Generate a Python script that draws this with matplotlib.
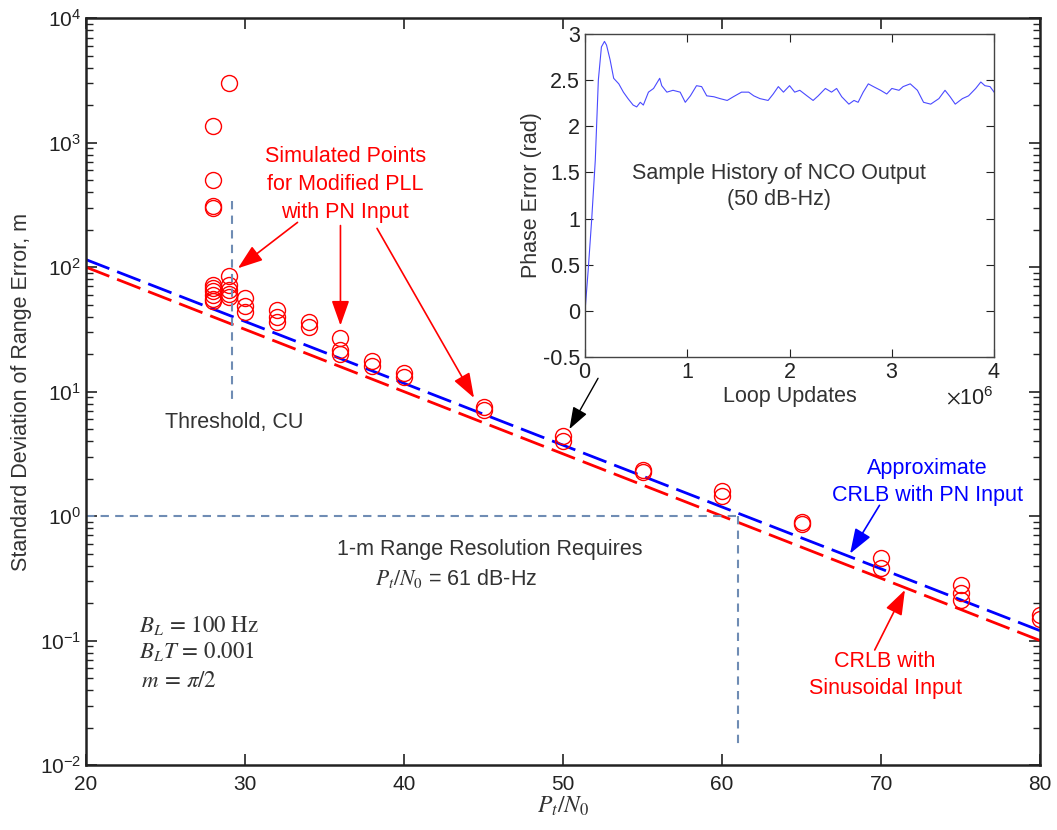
import numpy as np
import matplotlib.pyplot as plt
from matplotlib.ticker import ScalarFormatter

plt.rcParams['font.family'] = ['Liberation Sans', 'DejaVu Sans']
plt.rcParams['mathtext.fontset'] = 'stix'

# CRLB curves (end points, straight on log axis)
crlb_x = [20, 80]
crlb_pn = [115, 0.12]
crlb_sin = [100, 0.1]

# simulated points for modified PLL
sim_x = [28, 28, 28, 28, 28, 28, 28, 28, 28, 28,
         29, 29, 29, 29, 29, 29,
         30, 30, 30,
         32, 32, 32,
         34, 34,
         36, 36, 36,
         38, 38,
         40, 40,
         45, 45,
         50, 50,
         55, 55,
         60, 60,
         65, 65,
         70, 70,
         75, 75, 75,
         80, 80]
sim_y = [1350, 500, 310, 300, 72, 68, 64, 60, 56, 53,
         3000, 85, 72, 66, 61, 58,
         57, 49, 44,
         45, 40, 36,
         36, 33,
         27, 21.5, 20,
         17.5, 16,
         14, 13,
         7.5, 7.1,
         4.4, 4.0,
         2.35, 2.25,
         1.6, 1.45,
         0.9, 0.87,
         0.46, 0.38,
         0.28, 0.24, 0.21,
         0.16, 0.15]

# sample history of NCO output (loop updates in units of 1e6)
nco_x = [0.0, 0.03, 0.065, 0.10, 0.13, 0.16, 0.19, 0.21, 0.245, 0.28,
         0.33, 0.375, 0.42, 0.47, 0.505, 0.54, 0.57, 0.62, 0.67, 0.73,
         0.75, 0.80, 0.86, 0.93, 0.98, 1.03, 1.09, 1.14, 1.19, 1.26,
         1.32, 1.39, 1.45, 1.53, 1.60, 1.65, 1.71, 1.79, 1.84, 1.89,
         1.94, 2.00, 2.05, 2.10, 2.17, 2.23, 2.28, 2.35, 2.41, 2.46,
         2.51, 2.58, 2.63, 2.67, 2.72, 2.77, 2.82, 2.89, 2.95, 3.00,
         3.07, 3.11, 3.18, 3.25, 3.31, 3.38, 3.46, 3.52, 3.57, 3.62,
         3.69, 3.75, 3.82, 3.87, 3.91, 3.96, 4.00]
nco_y = [0.0, 0.43, 0.99, 1.63, 2.50, 2.86, 2.92, 2.88, 2.72, 2.52,
         2.46, 2.37, 2.30, 2.23, 2.21, 2.26, 2.23, 2.37, 2.41, 2.52,
         2.44, 2.37, 2.39, 2.37, 2.26, 2.33, 2.44, 2.43, 2.33, 2.32,
         2.30, 2.28, 2.32, 2.37, 2.37, 2.33, 2.30, 2.28, 2.35, 2.43,
         2.37, 2.44, 2.37, 2.39, 2.33, 2.28, 2.33, 2.41, 2.37, 2.41,
         2.32, 2.24, 2.28, 2.26, 2.37, 2.46, 2.43, 2.39, 2.35, 2.41,
         2.39, 2.43, 2.46, 2.39, 2.26, 2.24, 2.30, 2.39, 2.32, 2.24,
         2.30, 2.33, 2.41, 2.48, 2.44, 2.43, 2.37]
nco_x = np.array(nco_x) * 1e6

red = '#ff0000'
blue = '#0000ff'
guide = '#6f8cb4'
txt = '#333333'
fs = 15.5

fig = plt.figure(figsize=(10.57, 8.30), dpi=100)
ax = fig.add_axes([0.0814, 0.0783, 0.9026, 0.8997])

ax.plot(crlb_x, crlb_pn, color=blue, lw=2, dashes=(9, 3))
ax.plot(crlb_x, crlb_sin, color=red, lw=2, dashes=(9, 3))
ax.plot(sim_x, sim_y, 'o', mfc='none', mec=red, ms=11.5, mew=1.0)

# threshold and resolution guides
ax.plot([29.2, 29.2], [340, 7.8], color=guide, lw=1.5, dashes=(4, 3))
ax.plot([20, 61], [1, 1], color=guide, lw=1.5, dashes=(4, 3))
ax.plot([61, 61], [1, 0.0145], color=guide, lw=1.5, dashes=(4, 3))

ax.set_yscale('log')
ax.set_xlim(20, 80)
ax.set_ylim(1e-2, 1e4)
ax.set_xticks([20, 30, 40, 50, 60, 70, 80])
ax.tick_params(which='both', direction='in', top=True, right=True,
               labelsize=15, colors='#222222')
ax.tick_params(axis='x', pad=7)
ax.tick_params(which='major', length=8, width=1.2)
ax.tick_params(which='minor', length=5, width=1.0)
for s in ax.spines.values():
    s.set_linewidth(1.8)
    s.set_color('#222222')
ax.set_xlabel('$P_t/N_0$', fontsize=17, color=txt, labelpad=1)
ax.set_ylabel('Standard Deviation of Range Error, m', fontsize=fs, color=txt, labelpad=6)

# annotations
head = '-|>,head_length=0.9,head_width=0.32'
arr = dict(arrowstyle=head, color=red, lw=1.2, mutation_scale=17, shrinkA=0, shrinkB=0)
ax.text(36.3, 460, 'Simulated Points\nfor Modified PLL\nwith PN Input', color=red,
        fontsize=fs, ha='center', va='center', linespacing=1.45)
ax.annotate('', xy=(29.55, 98), xytext=(33.3, 229), arrowprops=arr)
ax.annotate('', xy=(36.0, 34), xytext=(36.0, 216), arrowprops=arr)
ax.annotate('', xy=(44.4, 8.9), xytext=(38.3, 205), arrowprops=arr)
ax.annotate('', xy=(50.4, 5.0), xytext=(52.2, 12.8),
            arrowprops=dict(arrowstyle=head, color='black', lw=1.0,
                            mutation_scale=15, shrinkA=0, shrinkB=0))
ax.text(29.3, 5.6, 'Threshold, CU', color=txt, fontsize=fs, ha='center', va='center')
ax.text(72.9, 1.88, 'Approximate\nCRLB with PN Input', color=blue, fontsize=fs,
        ha='center', va='center', linespacing=1.35)
ax.annotate('', xy=(68.05, 0.50), xytext=(69.9, 1.22),
            arrowprops=dict(arrowstyle=head, color=blue, lw=1.2, mutation_scale=17,
                            shrinkA=0, shrinkB=0))
ax.text(70.25, 0.053, 'CRLB with\nSinusoidal Input', color=red, fontsize=fs,
        ha='center', va='center', linespacing=1.35)
ax.annotate('', xy=(71.5, 0.255), xytext=(69.6, 0.084), arrowprops=arr)
ax.text(45.4, 0.54, '1-m Range Resolution Requires', color=txt, fontsize=fs,
        ha='center', va='center')
ax.text(43.3, 0.318, '$P_t/N_0$ = 61 dB-Hz', color=txt, fontsize=fs,
        ha='center', va='center')
ax.text(23.3, 0.133, r'$B_L\,=\,100\ \mathrm{Hz}$', color=txt, fontsize=16.5, va='center')
ax.text(23.3, 0.081, r'$B_L T\,=\,0.001$', color=txt, fontsize=16.5, va='center')
ax.text(23.3, 0.048, r'$\,m\,=\,\pi/2$', color=txt, fontsize=16.5, va='center')

# inset
ins = fig.add_axes([0.5535, 0.570, 0.3870, 0.389])
ins.plot(nco_x, nco_y, color='#4a4aff', lw=0.8)
ins.set_xlim(0, 4e6)
ins.set_ylim(-0.5, 3)
ins.set_yticks(np.arange(-0.5, 3.01, 0.5))
ins.set_yticklabels(['-0.5', '0', '0.5', '1', '1.5', '2', '2.5', '3'])
fmt = ScalarFormatter(useMathText=True)
fmt.set_powerlimits((0, 0))
ins.xaxis.set_major_formatter(fmt)
ins.xaxis.get_offset_text().set_fontsize(fs)
ins.xaxis.get_offset_text().set_color(txt)
ins.tick_params(direction='in', top=True, right=True, labelsize=fs, colors='#222222',
                length=6)
for s in ins.spines.values():
    s.set_color('#444444')
    s.set_linewidth(1.0)
ins.set_xlabel('Loop Updates', fontsize=fs, color=txt, labelpad=2)
ins.set_ylabel('Phase Error (rad)', fontsize=fs, color=txt, labelpad=1)
ins.text(1.9e6, 1.35, 'Sample History of NCO Output\n(50 dB-Hz)', color=txt, fontsize=fs,
         ha='center', va='center', linespacing=1.3)

fig.savefig('out.png', dpi=100)
